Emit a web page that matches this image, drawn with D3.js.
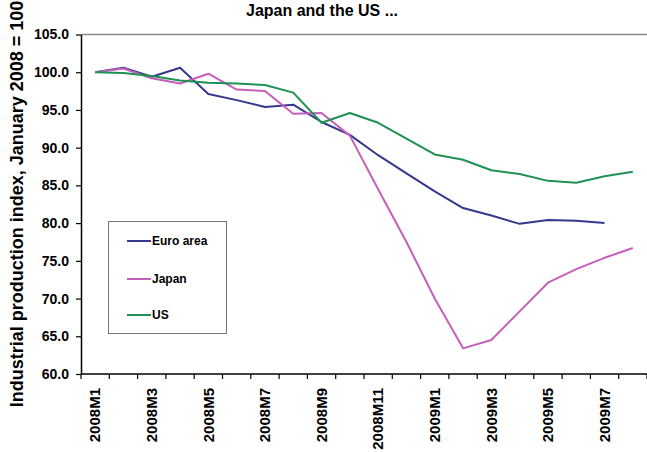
<!DOCTYPE html>
<html>
<head>
<meta charset="utf-8">
<style>
  body { margin: 0; background: #fff; }
  svg { display: block; font-family: "Liberation Sans", Arial, sans-serif; }
  .axis text { font-weight: bold; fill: #000; }
</style>
<script src="https://cdn.jsdelivr.net/npm/d3@7"></script>
</head>
<body>
<script>
// months on the category axis
var months = ["2008M1","2008M2","2008M3","2008M4","2008M5","2008M6","2008M7","2008M8","2008M9","2008M10",
              "2008M11","2008M12","2009M1","2009M2","2009M3","2009M4","2009M5","2009M6","2009M7","2009M8"];
var euroArea = [100.0,100.6,99.4,100.6,97.1,96.3,95.4,95.7,93.4,91.7,89.0,86.6,84.2,82.0,81.0,79.9,80.4,80.3,80.0];
var japan    = [100.0,100.5,99.2,98.5,99.8,97.7,97.5,94.5,94.6,91.6,84.5,77.5,70.0,63.4,64.5,68.3,72.1,73.9,75.4,76.7];
var us       = [100.0,99.9,99.5,98.9,98.6,98.5,98.3,97.3,93.3,94.6,93.3,91.2,89.1,88.4,87.0,86.5,85.6,85.35,86.2,86.8];
var yTicks = [60,65,70,75,80,85,90,95,100,105];
var labelled = months.filter(function(d,i){ return i % 2 == 0; });

var series = [
  {name: "Euro area", values: euroArea, color: "#35388c"},
  {name: "Japan",     values: japan,    color: "#c55fba"},
  {name: "US",        values: us,       color: "#1f9152"}
];

var W = 647, H = 452;
var plotL = 81, plotR = 647, plotT = 34.5, plotB = 374;

var svg = d3.select("body").append("svg").attr("width", W).attr("height", H);

var x = d3.scaleBand().domain(months).range([plotL, plotR]).padding(0);
var y = d3.scaleLinear().domain([60,105]).range([plotB, plotT]);

// plot frame (top line grey)
svg.append("line")
  .attr("x1", plotL).attr("x2", plotR)
  .attr("y1", y(105)).attr("y2", y(105))
  .attr("stroke", "#8a8a8a").attr("stroke-width", 1.5);

// title
svg.append("text")
  .attr("x", 322).attr("y", 16)
  .attr("text-anchor", "middle")
  .style("font-size", "16px").style("font-weight", "bold")
  .text("Japan and the US ...");

// y axis
var yAxis = svg.append("g").attr("class", "axis")
  .attr("transform", "translate(" + plotL + ",0)")
  .call(d3.axisLeft(y).tickValues(yTicks).tickFormat(d3.format(".1f")).tickSize(5).tickSizeOuter(0).tickPadding(7));
yAxis.selectAll("text").style("font-size", "14px");
yAxis.select(".domain").attr("stroke", "#000").attr("stroke-width", 1.5);
yAxis.selectAll(".tick line").attr("stroke", "#000").attr("stroke-width", 1.2);

// y title
svg.append("text")
  .attr("transform", "translate(23,204) rotate(-90)")
  .attr("text-anchor", "middle")
  .style("font-size", "18px").style("font-weight", "bold")
  .text("Industrial production index, January 2008 = 100");

// x axis: line, ticks at the band edges, labels every other month
var xg = svg.append("g").attr("class", "axis");
xg.append("line")
  .attr("x1", plotL).attr("x2", plotR)
  .attr("y1", plotB).attr("y2", plotB)
  .attr("stroke", "#000").attr("stroke-width", 1.5);
xg.selectAll("line.tk")
  .data(months.concat(["end"]))
  .enter().append("line")
    .attr("class", "tk")
    .attr("x1", function(d){ return d == "end" ? plotR : x(d); })
    .attr("x2", function(d){ return d == "end" ? plotR : x(d); })
    .attr("y1", plotB).attr("y2", plotB + 5)
    .attr("stroke", "#000").attr("stroke-width", 1.2);
xg.selectAll("text.lab")
  .data(labelled)
  .enter().append("text")
    .attr("class", "lab")
    .attr("transform", function(d){ return "translate(" + (x(d) + x.bandwidth() / 2) + "," + (plotB + 14) + ") rotate(-90)"; })
    .attr("text-anchor", "end")
    .attr("dy", "0.35em")
    .style("font-size", "15px")
    .text(function(d){ return d; });

// lines
var line = d3.line()
  .x(function(d,i){ return x(months[i]) + x.bandwidth() / 2; })
  .y(function(d){ return y(d); });

svg.selectAll("path.series")
  .data(series)
  .enter().append("path")
    .attr("class", "series")
    .attr("fill", "none")
    .attr("stroke", function(d){ return d.color; })
    .attr("stroke-width", 2)
    .attr("stroke-linejoin", "round")
    .attr("d", function(d){ return line(d.values); });

// legend
var lg = svg.append("g");
lg.append("rect")
  .attr("x", 108.5).attr("y", 221.5).attr("width", 118).attr("height", 112)
  .attr("fill", "#fff").attr("stroke", "#777").attr("stroke-width", 1);
var items = lg.selectAll("g.item")
  .data(series)
  .enter().append("g")
    .attr("class", "item")
    .attr("transform", function(d,i){ return "translate(0," + [241, 279, 315][i] + ")"; });
items.append("line")
  .attr("x1", 127).attr("x2", 151)
  .attr("stroke", function(d){ return d.color; })
  .attr("stroke-width", 2);
items.append("text")
  .attr("x", 152).attr("dy", "0.35em")
  .style("font-size", "12px").style("font-weight", "bold")
  .text(function(d){ return d.name; });
</script>
</body>
</html>
